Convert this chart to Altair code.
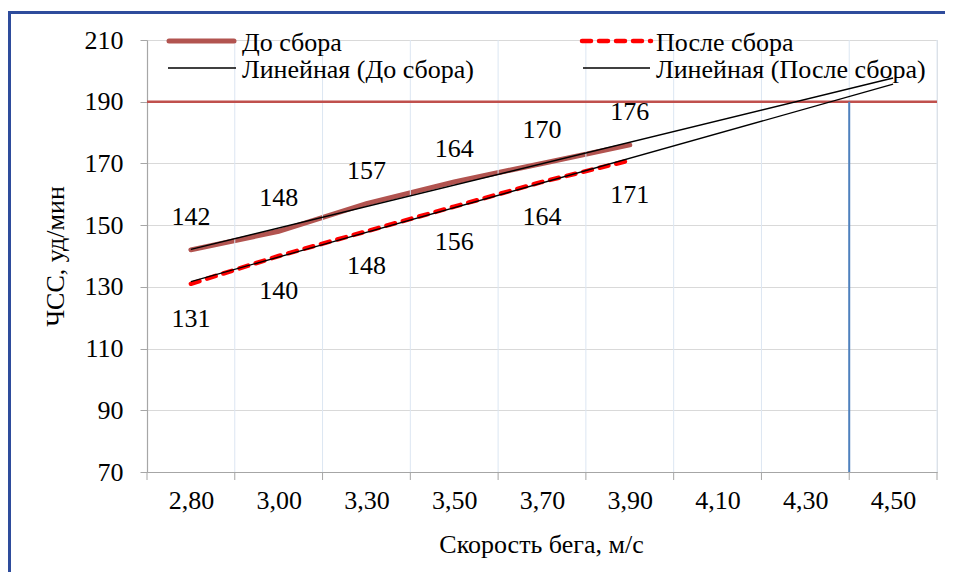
import json
import altair as alt
import pandas as pd

# ---------------- data ----------------
categories = ["2,80", "3,00", "3,30", "3,50", "3,70", "3,90", "4,10", "4,30", "4,50"]
before = [142, 148, 157, 164, 170, 176]
after = [131, 140, 148, 156, 164, 171]
series_names = ["До сбора", "После сбора"]
trend_names = ["Линейная (До сбора)", "Линейная (После сбора)"]
limit_hr = [190]
limit_pos = [8.5]          # category boundary between 4,30 and 4,50
y_ticks = [70, 90, 110, 130, 150, 170, 190, 210]
y_title = "ЧСС, уд/мин"
x_title = "Скорость бега, м/с"

# ---------------- layout ----------------
W, H = 790, 432
FONT = "Liberation Serif"
FS = 26
n = len(categories)
idx = list(range(1, len(before) + 1))
boundaries = [i + 0.5 for i in range(0, n + 1)]

df = pd.DataFrame({
    "idx": idx * 2,
    "hr": before + after,
    "series": [series_names[0]] * len(before) + [series_names[1]] * len(after),
})
df_before = df[df.series == series_names[0]]
df_after = df[df.series == series_names[1]]

xs = alt.Scale(domain=[0.5, n + 0.5], nice=False, zero=False)
ys = alt.Scale(domain=[y_ticks[0], y_ticks[-1]], nice=False, zero=False)

label_expr = json.dumps(categories, ensure_ascii=False) + "[datum.value - 1]"

x_axis = alt.Axis(
    values=list(range(1, n + 1)), labelExpr=label_expr, grid=False, ticks=False, tickSize=0,
    domainColor="#A6A6A6", domainWidth=1.2, labelFont=FONT, labelFontSize=FS, labelColor="#000000",
    labelPadding=28, labelBaseline="middle", labelFlush=False, labelOverlap=False,
    title=x_title, titleFont=FONT, titleFontSize=FS, titleFontWeight="normal", titleColor="#000000",
    titleX=W / 2 - 1, titleY=72, titleAlign="center", titleBaseline="middle",
)
y_axis = alt.Axis(
    values=y_ticks, grid=True, gridColor="#D9D9D9", gridWidth=1,
    domainColor="#A6A6A6", domainWidth=1.2, tickColor="#A6A6A6", tickSize=7,
    labelFont=FONT, labelFontSize=FS, labelColor="#000000", labelPadding=17,
    title=y_title, titleFont=FONT, titleFontSize=FS, titleFontWeight="normal", titleColor="#000000",
    titleAngle=-90, titleX=-92, titleY=H / 2, titleAlign="center", titleBaseline="middle",
)


def X(field):
    return alt.X(field, scale=xs, axis=x_axis)


def Y(field):
    return alt.Y(field, scale=ys, axis=y_axis)


# gridlines (vertical, at category boundaries) and x ticks
vgrid = alt.Chart(pd.DataFrame({"idx": boundaries[1:]})).mark_rule(color="#DCE6F2", strokeWidth=1).encode(
    x=X("idx:Q"), y=alt.value(0), y2=alt.value(H)
)
xticks = alt.Chart(pd.DataFrame({"idx": boundaries})).mark_rule(color="#A6A6A6", strokeWidth=1).encode(
    x=X("idx:Q"), y=alt.value(H), y2=alt.value(H + 8)
)

red_line = alt.Chart(pd.DataFrame({"hr": limit_hr})).mark_rule(color="#C0504D", strokeWidth=2.5).encode(
    y=Y("hr:Q")
)
blue_line = alt.Chart(pd.DataFrame({"idx": limit_pos, "hr": limit_hr, "lo": [y_ticks[0]]})).mark_rule(
    color="#4F81BD", strokeWidth=2
).encode(x=X("idx:Q"), y=Y("hr:Q"), y2="lo:Q")

line_before = alt.Chart(df_before).mark_line(color="#B25450", strokeWidth=5, strokeCap="round").encode(
    x=X("idx:Q"), y=Y("hr:Q")
)
line_after = alt.Chart(df_after).mark_line(
    color="#FF0000", strokeWidth=4.5, strokeDash=[9, 8], strokeCap="round"
).encode(x=X("idx:Q"), y=Y("hr:Q"))

trend = alt.Chart(df).transform_regression(
    "idx", "hr", groupby=["series"], extent=[1, n], method="linear"
).mark_line(color="#000000", strokeWidth=1.3).encode(
    x=X("idx:Q"), y=Y("hr:Q"), detail="series:N"
)

lab_before = alt.Chart(df_before).mark_text(
    font=FONT, fontSize=FS, color="#000000", dy=-33, baseline="middle"
).encode(x=X("idx:Q"), y=Y("hr:Q"), text="hr:Q")
lab_after = alt.Chart(df_after).mark_text(
    font=FONT, fontSize=FS, color="#000000", dy=35, baseline="middle"
).encode(x=X("idx:Q"), y=Y("hr:Q"), text="hr:Q")

# ---------------- legend ----------------
one = pd.DataFrame({"k": [0]})
leg = []
leg.append(alt.Chart(one).mark_rule(color="#B25450", strokeWidth=5, strokeCap="round").encode(
    x=alt.value(22), x2=alt.value(87), y=alt.value(1)))
leg.append(alt.Chart(one).mark_rule(color="#FF0000", strokeWidth=4.5, strokeDash=[9, 8], strokeCap="round").encode(
    x=alt.value(435), x2=alt.value(504), y=alt.value(1)))
leg.append(alt.Chart(one).mark_rule(color="#000000", strokeWidth=1.3).encode(
    x=alt.value(21), x2=alt.value(89), y=alt.value(28)))
leg.append(alt.Chart(one).mark_rule(color="#000000", strokeWidth=1.3).encode(
    x=alt.value(436), x2=alt.value(503), y=alt.value(28)))
for text, xp, yp in [(series_names[0], 95, 3), (series_names[1], 509, 3),
                     (trend_names[0], 95, 30), (trend_names[1], 509, 30)]:
    leg.append(alt.Chart(one).mark_text(
        font=FONT, fontSize=FS, color="#000000", align="left", baseline="middle"
    ).encode(x=alt.value(xp), y=alt.value(yp), text=alt.value(text)))

frame = alt.Chart(one).mark_rect(filled=False, stroke="#2E4C9C", strokeWidth=3).encode(
    x=alt.value(-137.5), x2=alt.value(1000), y=alt.value(-27.5), y2=alt.value(900)
)

chart = alt.layer(
    line_before, vgrid, xticks, red_line, blue_line, line_after, trend, lab_before, lab_after, *leg, frame
).properties(
    width=W, height=H,
    autosize=alt.AutoSizeParams(type="none"),
    padding={"left": 139, "top": 32, "right": 8, "bottom": 100},
).configure_view(stroke=None).configure(background="white")

chart.save("out.html", embed_options={"renderer": "svg", "actions": False})
